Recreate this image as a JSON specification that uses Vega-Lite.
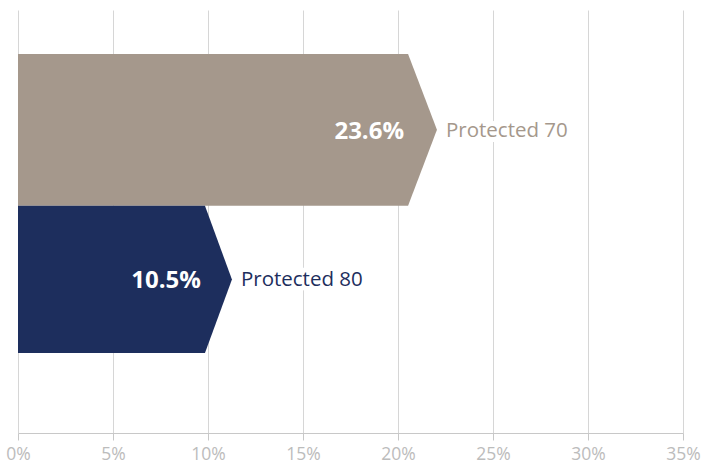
{
  "$schema": "https://vega.github.io/schema/vega-lite/v6.json",
  "width": 665,
  "height": 423,
  "autosize": "none",
  "padding": {"left": 18, "top": 10, "right": 30, "bottom": 32},
  "background": "white",
  "config": {"view": {"stroke": null}, "font": "Open Sans"},
  "datasets": {
    "shapes": [
      {"series": "Protected 70", "y": 89.6, "x": 20.53},
      {"series": "Protected 70", "y": 71.7, "x": 22.05},
      {"series": "Protected 70", "y": 53.7, "x": 20.53},
      {"series": "Protected 80", "y": 53.7, "x": 9.84},
      {"series": "Protected 80", "y": 36.3, "x": 11.26},
      {"series": "Protected 80", "y": 18.9, "x": 9.84}
    ],
    "bars": [
      {"series": "Protected 70", "pct": "23.6%", "body": 20.53, "tip": 22.05, "ymid": 71.7},
      {"series": "Protected 80", "pct": "10.5%", "body": 9.84, "tip": 11.26, "ymid": 36.3}
    ]
  },
  "layer": [
    {
      "data": {"name": "shapes"},
      "mark": {"type": "area", "orient": "horizontal", "interpolate": "linear"},
      "encoding": {
        "y": {"field": "y", "type": "quantitative", "scale": {"domain": [0, 100], "nice": false}, "axis": null},
        "x": {
          "field": "x", "type": "quantitative", "stack": null,
          "scale": {"domain": [0, 35], "nice": false},
          "axis": {
            "values": [0, 5, 10, 15, 20, 25, 30, 35],
            "labelExpr": "datum.value + '%'",
            "title": null,
            "grid": true,
            "gridColor": "#d6d6d6",
            "gridWidth": 1,
            "domainColor": "#c8c8c8",
            "tickColor": "#c8c8c8",
            "tickSize": 7,
            "labelFontSize": 17.5,
            "labelColor": "#bcbcbc",
            "labelPadding": 5,
            "labelFlush": false
          }
        },
        "color": {
          "field": "series", "type": "nominal",
          "scale": {"domain": ["Protected 70", "Protected 80"], "range": ["#a5988c", "#1d2e5d"]},
          "legend": null
        }
      }
    },
    {
      "data": {"name": "bars"},
      "mark": {"type": "text", "align": "right", "baseline": "middle", "dx": -4, "dy": 2, "fontSize": 24, "fontWeight": "bold", "color": "white"},
      "encoding": {
        "x": {"field": "body", "type": "quantitative"},
        "y": {"field": "ymid", "type": "quantitative"},
        "text": {"field": "pct"}
      }
    },
    {
      "data": {"name": "bars"},
      "mark": {"type": "text", "align": "left", "baseline": "middle", "dx": 9, "dy": 1, "fontSize": 20.5, "stroke": "white", "strokeWidth": 10, "strokeJoin": "round", "fill": "white"},
      "encoding": {
        "x": {"field": "tip", "type": "quantitative"},
        "y": {"field": "ymid", "type": "quantitative"},
        "text": {"field": "series"}
      }
    },
    {
      "data": {"name": "bars"},
      "mark": {"type": "text", "align": "left", "baseline": "middle", "dx": 9, "dy": 1, "fontSize": 20.5},
      "encoding": {
        "x": {"field": "tip", "type": "quantitative"},
        "y": {"field": "ymid", "type": "quantitative"},
        "text": {"field": "series"},
        "color": {"field": "series", "type": "nominal", "legend": null}
      }
    }
  ]
}
